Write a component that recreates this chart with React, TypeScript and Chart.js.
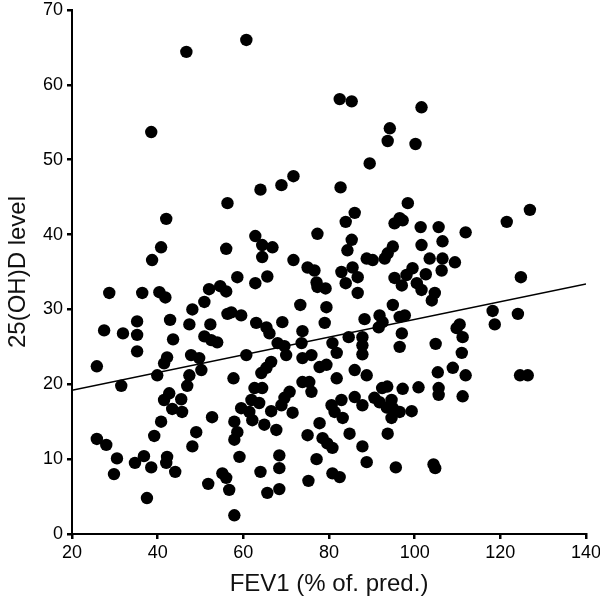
import React, { useEffect, useRef } from "react";
import { Chart, registerables } from "chart.js";

Chart.register(...registerables);

// FEV1 (% of predicted) for each subject
const fev1: number[] = [
  46.7, 60.7, 82.5, 85.3, 94.2, 93.7, 89.5, 71.7, 101.6, 100.2, 38.5,
  56.3, 42.0, 40.8, 38.7, 56.0, 28.7, 36.4, 40.4, 41.8, 52.0, 54.6, 56.0, 50.9, 48.1, 56.3,
  35.2, 42.9, 27.5, 31.9, 35.2, 43.6, 47.4, 52.3, 50.9, 52.5, 53.9, 35.2,
  25.8, 42.2, 41.5, 47.8, 49.7, 50.2, 47.4, 46.9, 39.9, 31.5, 42.7, 41.5, 45.5, 43.4, 45.7,
  52.7, 40.8, 49.0, 39.2, 48.1, 25.8, 28.0, 30.5, 29.8, 34.7, 36.8, 38.5, 42.2, 42.0, 44.1,
  37.5, 51.8, 55.1, 56.0, 56.7,
  68.9, 64.0, 82.7, 86.0, 83.9, 77.3, 62.8, 64.4, 66.8, 64.4, 85.3, 84.3, 71.7, 75.0, 76.6,
  88.8, 90.2, 93.0, 93.7, 82.9, 85.5, 86.7, 83.9, 58.6, 62.8, 65.6, 77.1, 77.3, 79.2, 86.7,
  73.3, 79.4, 57.2, 59.5, 63.0, 65.4, 66.1, 69.1, 79.0, 88.3, 91.8, 92.5, 91.6, 73.8, 68.0,
  69.6, 73.6, 80.8, 84.6, 87.8, 87.8,
  98.4, 96.5, 95.3, 97.2, 101.4, 105.6, 111.9, 121.5, 126.9, 94.9, 101.6, 106.5, 103.5, 106.5,
  109.4, 106.3, 95.3, 97.0, 98.1, 99.5, 102.6, 100.5, 101.6, 104.7, 104.0, 124.8, 94.9, 96.5,
  97.7, 118.2, 118.7, 124.1, 110.5, 109.8, 111.2, 97.0, 96.5, 104.9, 111.0,
  81.8, 87.8, 60.7, 70.0, 73.8, 75.9, 66.5, 65.4, 64.2, 77.8, 79.4, 57.7, 81.8, 86.0, 88.8,
  73.8, 75.4, 75.9, 62.6, 64.4, 70.8, 69.6, 68.9, 61.9, 63.7, 59.5, 61.4, 66.5, 71.5, 62.1,
  64.9, 67.7, 57.9, 58.6, 57.9, 80.6, 81.3, 83.2, 82.9, 86.0, 87.8, 90.6, 92.4, 93.6, 93.5,
  94.6, 77.8, 75.0, 78.5, 79.6, 80.8, 84.8, 87.8, 88.8, 93.7, 68.4, 59.1, 68.4, 77.1, 64.0,
  80.8, 82.5, 75.2, 65.6, 68.4, 57.9,
  105.4, 108.9, 111.9, 124.6, 126.4, 105.6, 105.6, 111.2, 97.2, 100.9, 94.6, 94.9, 96.5, 99.3,
  91.8, 95.6, 104.4, 104.8,
];

// 25(OH)D level for each subject
const vitD: number[] = [
  64.4, 66.0, 58.1, 57.8, 54.2, 52.5, 49.5, 47.8, 57.0, 52.1, 53.7,
  44.2, 42.1, 38.3, 36.6, 38.1, 32.2, 32.2, 32.3, 31.6, 32.7, 33.1, 32.4, 31.0, 30.0, 29.4,
  28.4, 28.6, 27.2, 26.8, 26.6, 26.0, 28.0, 28.0, 26.4, 25.9, 25.6, 24.4,
  22.4, 23.6, 22.8, 23.9, 23.5, 21.9, 21.2, 19.8, 21.2, 19.8, 18.8, 17.9, 18.0, 16.7, 16.3,
  15.6, 15.0, 13.6, 13.1, 11.7, 12.7, 11.9, 10.1, 8.0, 9.5, 10.4, 8.9, 10.3, 9.5, 8.3,
  4.8, 6.7, 8.1, 7.5, 5.9,
  46.6, 46.0, 46.3, 42.9, 41.7, 40.1, 39.8, 38.6, 38.3, 37.0, 39.3, 37.9, 36.6, 35.6, 35.2,
  36.8, 36.6, 36.8, 37.5, 35.0, 35.6, 34.3, 33.5, 34.3, 33.5, 34.4, 33.6, 33.0, 32.8, 32.2,
  30.6, 30.3, 29.6, 29.2, 28.2, 27.6, 26.8, 28.3, 28.2, 28.7, 29.2, 28.3, 27.6, 27.1, 25.5,
  25.1, 25.5, 25.5, 26.3, 26.3, 25.2,
  44.2, 42.2, 41.5, 41.9, 41.0, 41.0, 40.3, 41.7, 43.3, 38.4, 38.6, 39.1, 36.8, 36.8,
  36.3, 35.2, 34.2, 33.2, 34.6, 35.5, 34.7, 33.5, 32.6, 32.2, 31.2, 34.3, 30.6, 29.0,
  29.2, 29.8, 28.0, 29.4, 28.0, 27.5, 26.3, 26.8, 25.0, 25.4, 24.2,
  24.2, 24.0, 23.9, 23.9, 23.5, 23.9, 23.0, 22.2, 21.5, 22.3, 22.6, 20.8, 20.8, 21.9, 21.2,
  20.3, 20.3, 19.0, 19.5, 19.5, 19.0, 18.2, 17.2, 17.9, 17.5, 16.8, 16.3, 16.4, 16.2, 15.2,
  14.6, 13.9, 15.0, 13.6, 12.6, 17.2, 16.3, 15.5, 17.9, 18.3, 17.2, 18.2, 19.5, 19.7, 16.9,
  15.5, 14.8, 13.2, 12.8, 12.1, 11.5, 13.4, 11.7, 9.6, 13.4, 10.5, 10.3, 8.8, 10.0, 8.3,
  8.1, 7.6, 7.1, 5.5, 6.0, 2.5,
  21.6, 22.2, 21.2, 21.2, 21.2, 19.5, 18.6, 18.4, 19.4, 19.6, 17.9, 16.8, 16.3, 16.4,
  17.6, 8.9, 9.3, 8.8,
];

// Fitted regression line end points
const fitX: number[] = [20, 140];
const fitY: number[] = [19.2, 33.4];

const xTicks: number[] = [20, 40, 60, 80, 100, 120, 140];
const yTicks: number[] = [0, 10, 20, 30, 40, 50, 60, 70];

const FONT = "'Liberation Sans', Arial, sans-serif";

export default function App() {
  const canvasRef = useRef<HTMLCanvasElement | null>(null);

  useEffect(() => {
    if (!canvasRef.current) return;
    const points = fev1.map((x, i) => ({ x, y: vitD[i] }));
    const fit = fitX.map((x, i) => ({ x, y: fitY[i] }));

    const chart = new Chart(canvasRef.current, {
      type: "scatter",
      data: {
        datasets: [
          {
            type: "line",
            data: fit,
            borderColor: "#000",
            borderWidth: 1.5,
            pointRadius: 0,
            fill: false,
            order: 1,
          },
          {
            data: points,
            backgroundColor: "#000",
            borderWidth: 0,
            pointRadius: 6.2,
            pointHoverRadius: 6.2,
            order: 2,
          },
        ],
      },
      options: {
        animation: false,
        responsive: true,
        maintainAspectRatio: false,
        layout: { padding: { top: 10, right: 14, left: 0, bottom: 0 } },
        plugins: { legend: { display: false }, tooltip: { enabled: false } },
        scales: {
          x: {
            type: "linear",
            min: 20,
            max: 140,
            afterBuildTicks: (s: any) => {
              s.ticks = xTicks.map((v) => ({ value: v }));
            },
            afterFit: (s: any) => {
              s.height = 71;
              s.paddingLeft = 0;
              s.paddingRight = 0;
            },
            ticks: {
              font: { family: FONT, size: 18 },
              color: "#000",
              padding: 3,
              maxRotation: 0,
            },
            grid: {
              display: true,
              drawOnChartArea: false,
              drawTicks: true,
              tickLength: 5,
              lineWidth: 2.5,
              color: "#000",
            },
            border: { display: true, color: "#000", width: 2 },
            title: {
              display: true,
              text: "FEV1 (% of. pred.)",
              font: { family: FONT, size: 24 },
              color: "#111",
              padding: { top: 0, bottom: 6 },
            },
          },
          y: {
            type: "linear",
            min: 0,
            max: 70,
            afterBuildTicks: (s: any) => {
              s.ticks = yTicks.map((v) => ({ value: v }));
            },
            afterFit: (s: any) => {
              s.width = 72;
              s.paddingTop = 0;
              s.paddingBottom = 0;
            },
            ticks: {
              font: { family: FONT, size: 18 },
              color: "#000",
              padding: 4,
            },
            grid: {
              display: true,
              drawOnChartArea: false,
              drawTicks: true,
              tickLength: 5,
              lineWidth: 2.5,
              color: "#000",
            },
            border: { display: true, color: "#000", width: 2 },
            title: {
              display: true,
              text: "25(OH)D level",
              font: { family: FONT, size: 24 },
              color: "#111",
              padding: { top: 4, bottom: 0 },
            },
          },
        },
      },
    });
    return () => chart.destroy();
  }, []);

  return (
    <div
      style={{
        position: "fixed",
        left: 0,
        top: 0,
        width: 600,
        height: 605,
        background: "#fff",
      }}
    >
      <canvas ref={canvasRef} />
    </div>
  );
}
